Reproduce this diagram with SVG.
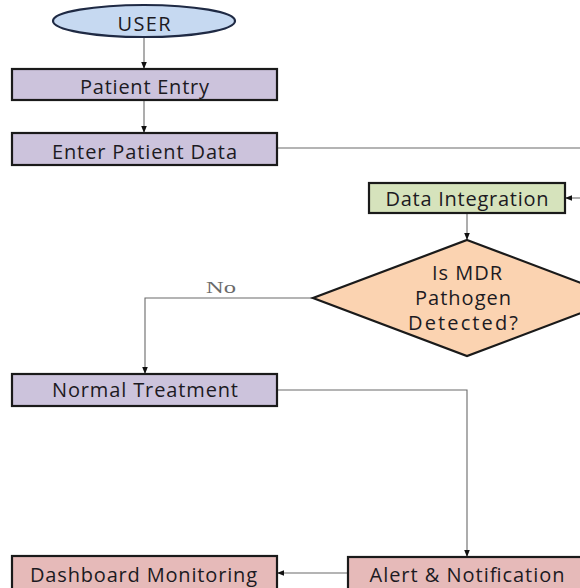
<svg xmlns="http://www.w3.org/2000/svg" width="580" height="588" viewBox="0 0 580 588">
  <style>
    .lbl { font-family: "Open Sans", "Liberation Sans", sans-serif; font-size: 20px; fill: #1c1a22; text-anchor: middle; }
    .box { stroke: #1a1a1a; stroke-width: 2.2; }
    .purple { fill: #ccc3dc; }
    .green { fill: #d6e3bc; }
    .orange { fill: #fbd3b1; }
    .pink { fill: #e6bab9; }
    .blue { fill: #c6d9f1; stroke: #1f2a44; stroke-width: 2.2; }
    .conn { fill: none; stroke: #6a6a6a; stroke-width: 1.1; }
    .arr { marker-end: url(#head); }
    .note { font-family: "Liberation Serif", serif; font-size: 17px; fill: #6a6a6a; }
  </style>
  <defs>
    <marker id="head" viewBox="0 0 10 10" refX="10" refY="5" markerWidth="7" markerHeight="7" markerUnits="userSpaceOnUse" orient="auto">
      <path d="M0,1 L10,5 L0,9 Z" fill="#111"/>
    </marker>
  </defs>

  <rect width="580" height="588" fill="#ffffff"/>

  <!-- connectors -->
  <g id="connectors">
    <path class="conn arr" d="M144,37 V69"/>
    <path class="conn arr" d="M144,100 V133"/>
    <path class="conn" d="M277,148 H580"/>
    <path class="conn arr" d="M580,198 H565"/>
    <path class="conn arr" d="M467,213 V240"/>
    <path class="conn arr" d="M313,298 H145 V374"/>
    <path class="conn arr" d="M277,390 H467 V557"/>
    <path class="conn arr" d="M348,573 H277"/>
    <text class="note" x="221" y="293" text-anchor="middle" textLength="30" lengthAdjust="spacingAndGlyphs">No</text>
  </g>

  <!-- start -->
  <g id="user">
    <ellipse class="blue" cx="144" cy="21" rx="91" ry="16"/>
    <text class="lbl" x="144" y="31" textLength="53">USER</text>
  </g>

  <g id="patient-entry">
    <rect class="box purple" x="12" y="69" width="265" height="31"/>
    <text class="lbl" x="144.5" y="94" textLength="129">Patient Entry</text>
  </g>

  <g id="enter-patient-data">
    <rect class="box purple" x="12" y="133" width="265" height="32"/>
    <text class="lbl" x="144.5" y="159" textLength="185">Enter Patient Data</text>
  </g>

  <g id="data-integration">
    <rect class="box green" x="369" y="183" width="196" height="30" stroke="#2c3a2c"/>
    <text class="lbl" x="467" y="206" textLength="163">Data Integration</text>
  </g>

  <g id="mdr-decision">
    <polygon class="box orange" points="467,240 621,298 467,356 313,298"/>
    <text class="lbl" x="467" y="280" textLength="70">Is MDR</text>
    <text class="lbl" x="463" y="305" textLength="96">Pathogen</text>
    <text class="lbl" x="463" y="330" textLength="110">Detected?</text>
  </g>

  <g id="normal-treatment">
    <rect class="box purple" x="12" y="374" width="265" height="32"/>
    <text class="lbl" x="145" y="397" textLength="186">Normal Treatment</text>
  </g>

  <g id="dashboard-monitoring">
    <rect class="box pink" x="12" y="556" width="265" height="40"/>
    <text class="lbl" x="143.5" y="582" textLength="227">Dashboard Monitoring</text>
  </g>

  <g id="alert-notification">
    <rect class="box pink" x="348" y="557" width="240" height="40"/>
    <text class="lbl" x="467" y="582" textLength="195">Alert &amp; Notification</text>
  </g>
</svg>
